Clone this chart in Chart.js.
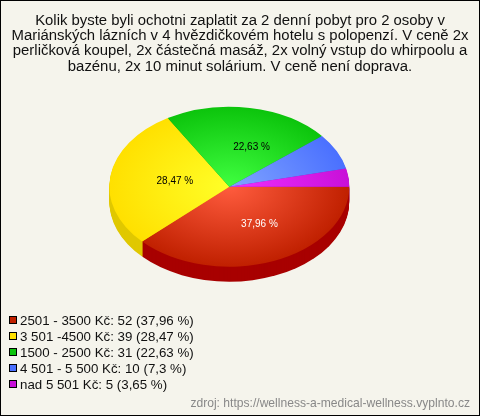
<!DOCTYPE html>
<html>
<head>
<meta charset="utf-8">
<title>Wellness</title>
<script src="https://cdn.jsdelivr.net/npm/chart.js@4"></script>
<style>
    html, body { margin: 0; padding: 0; background: #f5f4ec; }
    canvas { display: block; }
</style>
</head>
<body>
<canvas id="pieChart" width="480" height="416"></canvas>
<script>
const titleLines = [
    'Kolik byste byli ochotni zaplatit za 2 denní pobyt pro 2 osoby v',
    'Mariánských lázních v 4 hvězdičkovém hotelu s polopenzí. V ceně 2x',
    'perličková koupel, 2x částečná masáž, 2x volný vstup do whirpoolu a',
    'bazénu, 2x 10 minut solárium. V ceně není doprava.'
];
const categories = ['2501 - 3500 Kč', '3 501 -4500 Kč', '1500 - 2500 Kč', '4 501 - 5 500 Kč', 'nad 5 501 Kč'];
const values = [52, 39, 31, 10, 5];
const sourceText = 'zdroj: https://wellness-a-medical-wellness.vyplnto.cz';

const edgeColors = ['#c02000', '#ffe000', '#0cc40c', '#4a70ff', '#c810d8'];
const centerColors = ['#ff5c3e', '#ffff28', '#40ff40', '#80a4ff', '#f030ff'];
const sideColors = ['#a80000', '#e0c800', '#0a9a0a', '#3a58c8', '#9c0ca8'];
const labelColors = ['#ffffff', '#000000', '#000000'];
const labelNudge = [8, 5, 12];

const total = values.reduce((a, b) => a + b, 0);
const percentText = v => String(Math.round(v / total * 10000) / 100).replace('.', ',') + ' %';

// where the squashed pie really ends up on the page
const pieX = 229.3, pieY = 186.7, squash = 2 / 3, depth = 15;

function sliceGradient(context) {
    const chart = context.chart;
    const area = chart.chartArea;
    if (!area) return edgeColors[context.dataIndex];
    const x = (area.left + area.right) / 2;
    const y = (area.top + area.bottom) / 2;
    const g = chart.ctx.createRadialGradient(x, y, 0, x, y, 120);
    g.addColorStop(0, centerColors[context.dataIndex]);
    g.addColorStop(1, edgeColors[context.dataIndex]);
    return g;
}

const framePlugin = {
    id: 'frame',
    beforeDraw(chart) {
        const ctx = chart.ctx;
        ctx.save();
        ctx.fillStyle = '#f5f4ec';
        ctx.fillRect(0, 0, chart.width, chart.height);
        ctx.strokeStyle = '#000000';
        ctx.lineWidth = 1;
        ctx.strokeRect(0.5, 0.5, chart.width - 1, chart.height - 1);
        ctx.restore();
    }
};

// Tilted pie: squash the arcs and draw the rim under them
const tiltPlugin = {
    id: 'tilt',
    beforeDatasetsDraw(chart) {
        const ctx = chart.ctx;
        const arcs = chart.getDatasetMeta(0).data;
        const view = d => {
            ctx.translate(pieX, pieY + d);
            ctx.scale(1, squash);
            ctx.translate(-arcs[0].x, -arcs[0].y);
        };
        for (let d = depth; d > 0; d--) {
            ctx.save();
            view(d);
            arcs.forEach((arc, i) => {
                ctx.fillStyle = sideColors[i];
                ctx.beginPath();
                ctx.moveTo(arc.x, arc.y);
                ctx.arc(arc.x, arc.y, arc.outerRadius, arc.startAngle, arc.endAngle);
                ctx.closePath();
                ctx.fill();
            });
            ctx.restore();
        }
        ctx.save();
        view(0);
    },
    afterDatasetsDraw(chart) {
        const ctx = chart.ctx;
        ctx.restore();
        const arcs = chart.getDatasetMeta(0).data;
        ctx.save();
        ctx.font = '10px "Liberation Sans", Arial, sans-serif';
        ctx.textAlign = 'center';
        ctx.textBaseline = 'middle';
        labelColors.forEach((color, i) => {
            const p = arcs[i].getCenterPoint();
            ctx.fillStyle = color;
            ctx.fillText(percentText(values[i]), pieX + (p.x - arcs[i].x) + labelNudge[i], pieY + (p.y - arcs[i].y) * squash);
        });
        ctx.restore();
    }
};

// Legend rows and source line under the pie
const notesPlugin = {
    id: 'notes',
    afterDraw(chart) {
        const ctx = chart.ctx;
        ctx.save();
        ctx.font = '13.3px "Liberation Sans", Arial, sans-serif';
        ctx.textBaseline = 'middle';
        categories.forEach((name, i) => {
            const y = 320 + i * 16;
            ctx.fillStyle = edgeColors[i];
            ctx.strokeStyle = '#000000';
            ctx.lineWidth = 1;
            ctx.fillRect(9.5, y - 3.5, 7, 7);
            ctx.strokeRect(9.5, y - 3.5, 7, 7);
            ctx.fillStyle = '#111111';
            ctx.fillText(`${name}: ${values[i]} (${percentText(values[i])})`, 20, y + 1);
        });
        ctx.font = '12.1px "Liberation Sans", Arial, sans-serif';
        ctx.fillStyle = '#888888';
        ctx.textAlign = 'right';
        ctx.fillText(sourceText, 470, 404);
        ctx.restore();
    }
};

new Chart(document.getElementById('pieChart').getContext('2d'), {
    type: 'pie',
    data: {
        labels: categories,
        datasets: [{
            data: values,
            backgroundColor: sliceGradient,
            borderWidth: 0
        }]
    },
    options: {
        responsive: false,
        animation: false,
        rotation: 90,
        events: [],
        layout: {
            padding: { bottom: 101.7 }
        },
        plugins: {
            legend: { display: false },
            tooltip: { enabled: false },
            title: {
                display: true,
                text: titleLines,
                color: '#111111',
                font: { family: '"Liberation Sans", Arial, sans-serif', size: 14.9, weight: 'normal', lineHeight: 1.03 },
                padding: { top: 13, bottom: 0 }
            }
        }
    },
    plugins: [framePlugin, tiltPlugin, notesPlugin]
});
</script>
</body>
</html>
